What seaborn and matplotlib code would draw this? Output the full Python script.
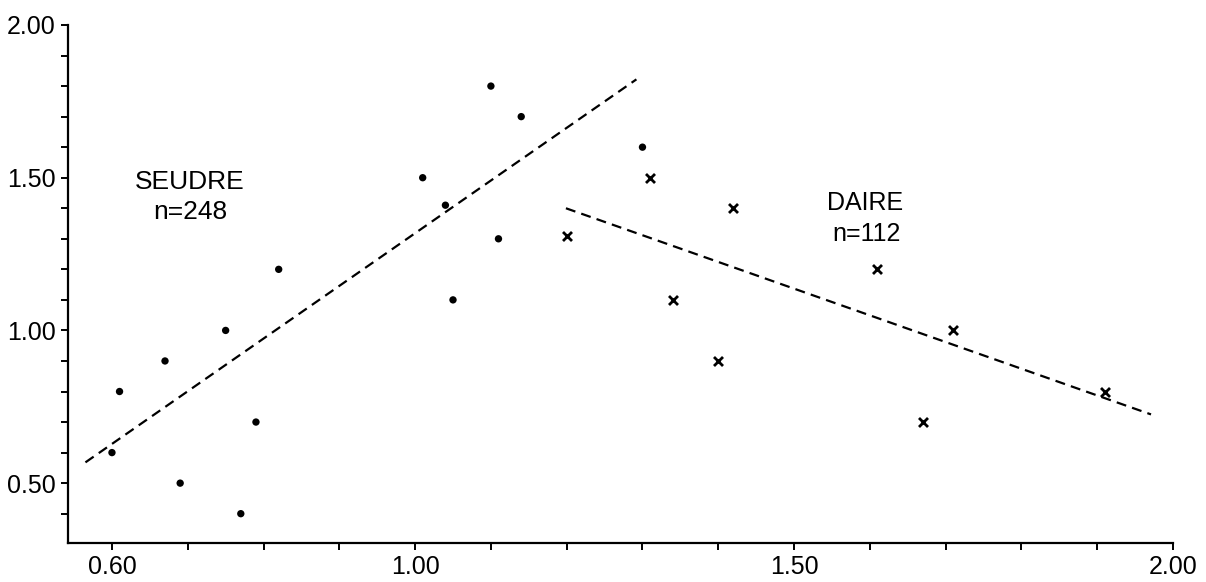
import seaborn as sns
import numpy as np
import matplotlib.pyplot as plt
import pandas as pd
from matplotlib.ticker import MultipleLocator, FormatStrFormatter

# SEUDRE (dots)
seudre_x = [0.60, 0.61, 0.67, 0.69, 0.75, 0.77, 0.79, 0.82, 1.01, 1.04, 1.05, 1.10, 1.11, 1.14, 1.30]
seudre_y = [0.60, 0.80, 0.90, 0.50, 1.00, 0.40, 0.70, 1.20, 1.50, 1.41, 1.10, 1.80, 1.30, 1.70, 1.60]
# DAIRE (crosses)
daire_x = [1.20, 1.31, 1.34, 1.40, 1.42, 1.61, 1.67, 1.71, 1.91]
daire_y = [1.31, 1.50, 1.10, 0.90, 1.40, 1.20, 0.70, 1.00, 0.80]
# dashed trend lines (end points)
seudre_line_x = [0.565, 1.292]
seudre_line_y = [0.568, 1.822]
daire_line_x = [1.199, 1.971]
daire_line_y = [1.400, 0.725]

x_ticks = [0.60, 1.00, 1.50, 2.00]
y_ticks = [0.50, 1.00, 1.50, 2.00]

sns.set_style("ticks")
plt.rcParams['font.family'] = ['Liberation Sans', 'DejaVu Sans']
plt.rcParams['text.color'] = 'black'
plt.rcParams['xtick.color'] = 'black'
plt.rcParams['ytick.color'] = 'black'
plt.rcParams['xtick.labelcolor'] = 'black'
plt.rcParams['ytick.labelcolor'] = 'black'

fig = plt.figure(figsize=(12.06, 5.82), dpi=100)
ax = fig.add_axes([68 / 1206, 1 - 543 / 582, (1173 - 68) / 1206, (543 - 25) / 582])

sns.lineplot(x=seudre_line_x, y=seudre_line_y, ax=ax, color='black', lw=1.6,
             dashes=False, linestyle=(0, (4.5, 2.8)), sort=False)
sns.lineplot(x=daire_line_x, y=daire_line_y, ax=ax, color='black', lw=1.6,
             dashes=False, linestyle=(0, (4.5, 2.8)), sort=False)

sns.scatterplot(x=seudre_x, y=seudre_y, ax=ax, color='black', marker='o', s=28,
                edgecolor='none', zorder=3)
sns.scatterplot(x=daire_x, y=daire_y, ax=ax, color='black', marker='x', s=42,
                linewidth=2, zorder=3)

ax.set_xlim(0.542, 2.0)
ax.set_ylim(0.304, 2.0)
ax.set_xticks(x_ticks)
ax.set_yticks(y_ticks)
ax.xaxis.set_minor_locator(MultipleLocator(0.1))
ax.yaxis.set_minor_locator(MultipleLocator(0.1))
ax.xaxis.set_major_formatter(FormatStrFormatter('%.2f'))
ax.yaxis.set_major_formatter(FormatStrFormatter('%.2f'))
ax.tick_params(which='both', direction='out', length=5, width=1.4,
               color='black', labelcolor='black')
ax.tick_params(axis='both', which='major', labelsize=18, pad=4)

sns.despine(ax=ax)
for side in ['left', 'bottom']:
    ax.spines[side].set_linewidth(1.6)
    ax.spines[side].set_color('black')

ax.text(0.630, 1.464, 'SEUDRE', fontsize=19, color='black', ha='left', va='baseline')
ax.text(0.654, 1.366, 'n=248', fontsize=19, color='black', ha='left', va='baseline')
ax.text(1.543, 1.395, 'DAIRE', fontsize=18, color='black', ha='left', va='baseline')
ax.text(1.550, 1.294, 'n=112', fontsize=18, color='black', ha='left', va='baseline')

plt.savefig('out.png', dpi=100)
